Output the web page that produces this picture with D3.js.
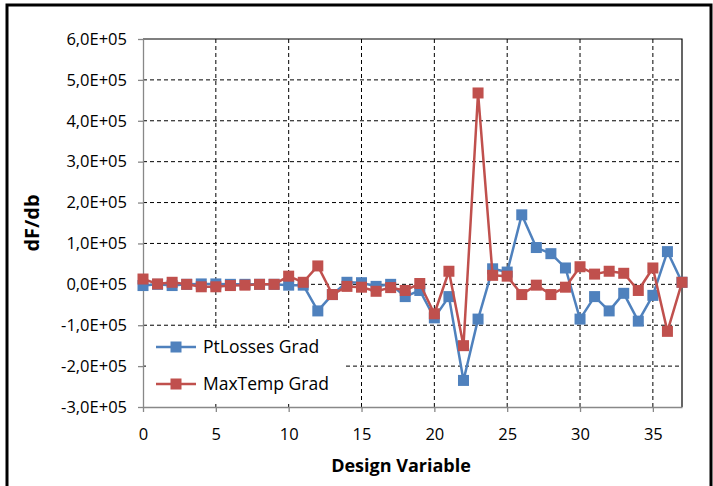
<!DOCTYPE html>
<html><head><meta charset="utf-8">
<script src="https://cdn.jsdelivr.net/npm/d3@7"></script>
<style>body{margin:0;background:#fff}svg{display:block}</style>
</head><body>
<svg id="c" width="713" height="486"></svg>
<script>
const designVars = d3.range(0, 38);
const ptLosses = [-0.03,0,-0.03,0,0.01,0.01,0,0,0,0,-0.02,-0.02,-0.65,-0.25,0.05,0.04,-0.05,0,-0.3,-0.15,-0.82,-0.3,-2.35,-0.85,0.38,0.3,1.7,0.9,0.75,0.4,-0.85,-0.3,-0.65,-0.22,-0.9,-0.27,0.8,0.05].map(v=>v*1e5);
const maxTemp = [0.13,0.01,0.05,0,-0.06,-0.06,-0.03,-0.02,0,0,0.2,0.05,0.45,-0.25,-0.05,-0.07,-0.17,-0.08,-0.15,0.02,-0.72,0.32,-1.5,4.68,0.22,0.2,-0.25,-0.02,-0.25,-0.07,0.43,0.25,0.32,0.27,-0.15,0.4,-1.15,0.05].map(v=>v*1e5);
const yTicks = [-3e5,-2e5,-1e5,0,1e5,2e5,3e5,4e5,5e5,6e5];
const xTicks = [0,5,10,15,20,25,30,35];
const seriesNames = ["PtLosses Grad","MaxTemp Grad"];
const colors = ["#4F81BD","#C0504D"];

const svg = d3.select("#c");
const L=143, R=682, T=39, B=407;
const x = d3.scaleLinear().domain([0,37]).range([L,R]);
const y = d3.scaleLinear().domain([-3e5,6e5]).range([B,T]);
const font = "'Open Sans', sans-serif";

svg.append("rect").attr("x",7).attr("y",5).attr("width",704).attr("height",500)
  .attr("fill","#fff").attr("stroke","#000").attr("stroke-width",3);

const fmt = v => { const m = v/1e5; return (m<0?"-":"") + Math.abs(m).toFixed(1).replace(".",",") + "E+05"; };

// gridlines
svg.append("g").selectAll("line").data(yTicks.filter(t=>t>-3e5 && t<6e5)).join("line")
  .attr("x1",L).attr("x2",R).attr("y1",d=>y(d)).attr("y2",d=>y(d))
  .attr("stroke","#000").attr("stroke-width",1).attr("stroke-dasharray","4,3");
svg.append("g").selectAll("line").data(xTicks.filter(t=>t>0)).join("line")
  .attr("x1",d=>x(d)).attr("x2",d=>x(d)).attr("y1",T).attr("y2",B)
  .attr("stroke","#000").attr("stroke-width",1).attr("stroke-dasharray","4,3");
// top / right border
svg.append("path").attr("d",`M${L},${T}H${R}V${B}`).attr("fill","none").attr("stroke","#000").attr("stroke-width",1.2);

// axes
const ya = svg.append("g").attr("transform",`translate(${L},0)`)
  .call(d3.axisLeft(y).tickValues(yTicks).tickFormat(fmt).tickSize(5).tickSizeOuter(0));
const xa = svg.append("g").attr("transform",`translate(0,${B})`)
  .call(d3.axisBottom(x).tickValues(xTicks).tickSize(5).tickSizeOuter(0));
[ya,xa].forEach(a=>{
  a.select(".domain").attr("stroke","#888").attr("stroke-width",1.3);
  a.selectAll(".tick line").attr("stroke","#888").attr("stroke-width",1.3);
  a.selectAll("text").attr("font-family",font).attr("font-size",16.5).attr("fill","#000");
});
ya.selectAll("text").attr("x",-16);
xa.selectAll("text").attr("y",21);

// series
[ptLosses, maxTemp].forEach((data,i)=>{
  const g = svg.append("g");
  const line = d3.line().x((d,j)=>x(designVars[j])).y(d=>y(d));
  g.append("path").datum(data).attr("d",line).attr("fill","none")
    .attr("stroke",colors[i]).attr("stroke-width",2.5).attr("stroke-linejoin","round");
  g.selectAll("rect").data(data).join("rect")
    .attr("x",(d,j)=>x(designVars[j])-5.5).attr("y",d=>y(d)-5.5)
    .attr("width",11).attr("height",11).attr("fill",colors[i]);
});

// legend
const lg = svg.append("g");
lg.append("rect").attr("x",146).attr("y",328).attr("width",200).attr("height",76).attr("fill","#fff");
seriesNames.forEach((n,i)=>{
  const yy = 347 + i*37;
  lg.append("line").attr("x1",156).attr("x2",196).attr("y1",yy).attr("y2",yy).attr("stroke",colors[i]).attr("stroke-width",2.5);
  lg.append("rect").attr("x",170.5).attr("y",yy-5.5).attr("width",11).attr("height",11).attr("fill",colors[i]);
  lg.append("text").attr("x",203).attr("y",yy).attr("dy","0.35em").attr("font-family",font).attr("font-size",17.5).text(n);
});

// titles
svg.append("text").attr("transform",`translate(39,${(T+B)/2}) rotate(-90)`).attr("text-anchor","middle")
  .attr("font-family",font).attr("font-weight","bold").attr("font-size",20).text("dF/db");
svg.append("text").attr("x",401).attr("y",472).attr("text-anchor","middle")
  .attr("font-family",font).attr("font-weight","bold").attr("font-size",18).text("Design Variable");
</script>
</body></html>
